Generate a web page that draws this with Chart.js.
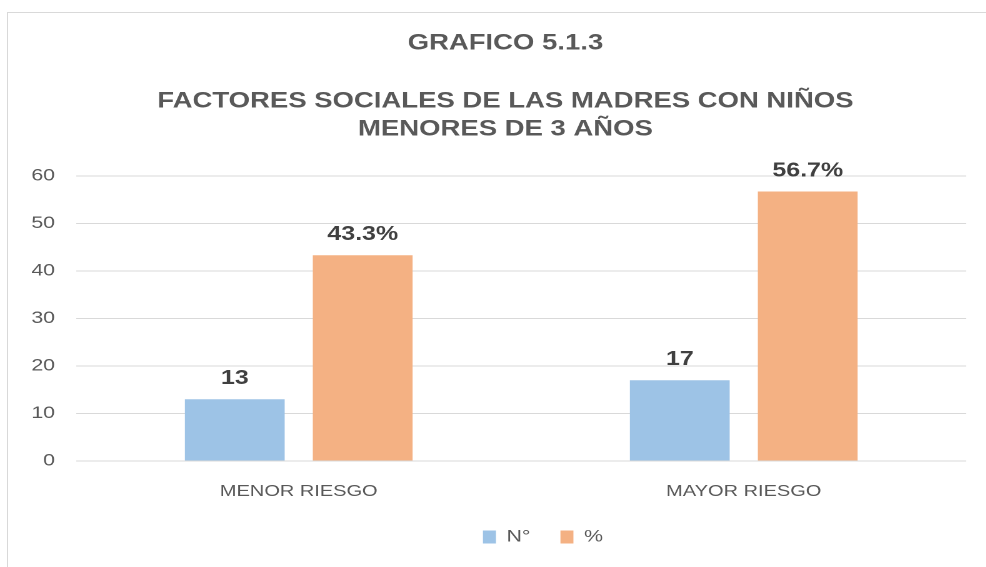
<!DOCTYPE html>
<html>
<head>
<meta charset="utf-8">
<script src="https://cdn.jsdelivr.net/npm/chart.js@4/dist/chart.umd.min.js"></script>
<style>
  html, body { margin: 0; padding: 0; background: #ffffff; }
  body { width: 986px; height: 567px; overflow: hidden; position: relative; }
  #frame { position: absolute; left: 7px; top: 12px; width: 1200px; height: 800px;
           border-left: 1px solid #d9d9d9; border-top: 1px solid #d9d9d9; }
  #wrap { position: absolute; left: 0; top: 0; width: 789px; height: 567px;
          transform: scaleX(1.25); transform-origin: 0 0; }
</style>
</head>
<body>
<div id="frame"></div>
<div id="wrap"><canvas id="c"></canvas></div>
<script>
const categories = ['MENOR RIESGO', 'MAYOR RIESGO'];
const seriesNames = ['N°', '%'];
const countValues = [13, 17];
const percentValues = [43.3, 56.7];
const yTicks = [0, 10, 20, 30, 40, 50, 60];
const titleText = 'GRAFICO 5.1.3';
const subtitleLines = ['FACTORES SOCIALES DE LAS MADRES CON NIÑOS', 'MENORES DE 3 AÑOS'];

const FONT = "'Liberation Sans', Arial, sans-serif";
const GRAY = '#595959';

const dataLabels = {
  id: 'dataLabels',
  afterDatasetsDraw(chart) {
    const ctx = chart.ctx;
    ctx.save();
    ctx.font = 'bold 20px ' + FONT;
    ctx.fillStyle = '#404040';
    ctx.textAlign = 'center';
    ctx.textBaseline = 'alphabetic';
    chart.data.datasets.forEach((ds, di) => {
      const meta = chart.getDatasetMeta(di);
      meta.data.forEach((el, i) => {
        const v = ds.data[i];
        const txt = di === 1 ? v.toFixed(1) + '%' : String(v);
        ctx.fillText(txt, el.x, el.y - 15);
      });
    });
    ctx.restore();
  }
};

// shift legend / titles horizontally (Excel places them off the canvas centre)
const boxShift = {
  id: 'boxShift',
  afterLayout(chart) {
    chart.boxes.forEach(b => {
      if (b === chart.legend) { b.left += 35.6; b.right += 35.6; }
      else if (b.options && b.options.text !== undefined && !b.axis) { b.left += 5.6; b.right += 5.6; }
    });
  }
};

new Chart(document.getElementById('c'), {
  type: 'bar',
  data: {
    labels: categories,
    datasets: [
      { label: seriesNames[0], data: countValues, backgroundColor: '#9DC3E6',
        categoryPercentage: 0.575, barPercentage: 0.78 },
      { label: seriesNames[1], data: percentValues, backgroundColor: '#F4B183',
        categoryPercentage: 0.575, barPercentage: 0.78 }
    ]
  },
  options: {
    responsive: true,
    maintainAspectRatio: false,
    animation: false,
    devicePixelRatio: 2,
    layout: { padding: { left: 24.5, right: 16, top: 0, bottom: 18.5 } },
    plugins: {
      title: {
        display: true, text: titleText, color: GRAY,
        font: { family: FONT, size: 22, weight: 'bold', lineHeight: 1.27 },
        padding: { top: 29.5, bottom: 0 }
      },
      subtitle: {
        display: true, text: subtitleLines, color: GRAY,
        font: { family: FONT, size: 22, weight: 'bold', lineHeight: 1.27 },
        padding: { top: 30, bottom: 32.5 }
      },
      legend: {
        position: 'bottom',
        maxHeight: 44,
        labels: {
          color: GRAY, boxWidth: 10.4, boxHeight: 13, padding: 24,
          font: { family: FONT, size: 17 }
        }
      },
      tooltip: { enabled: false }
    },
    scales: {
      x: {
        afterFit(scale) { scale.height = 43.5; },
        grid: { display: false, drawTicks: false },
        border: { display: false },
        ticks: { color: GRAY, padding: 21, font: { family: FONT, size: 16 } }
      },
      y: {
        min: 0, max: 60,
        afterBuildTicks(scale) { scale.ticks = yTicks.map(v => ({ value: v })); },
        afterFit(scale) { scale.width = 36.5; },
        grid: { color: '#d9d9d9', lineWidth: 1, drawTicks: false },
        border: { display: false },
        ticks: { color: GRAY, padding: 17, font: { family: FONT, size: 17 } }
      }
    }
  },
  plugins: [dataLabels, boxShift]
});
</script>
</body>
</html>
